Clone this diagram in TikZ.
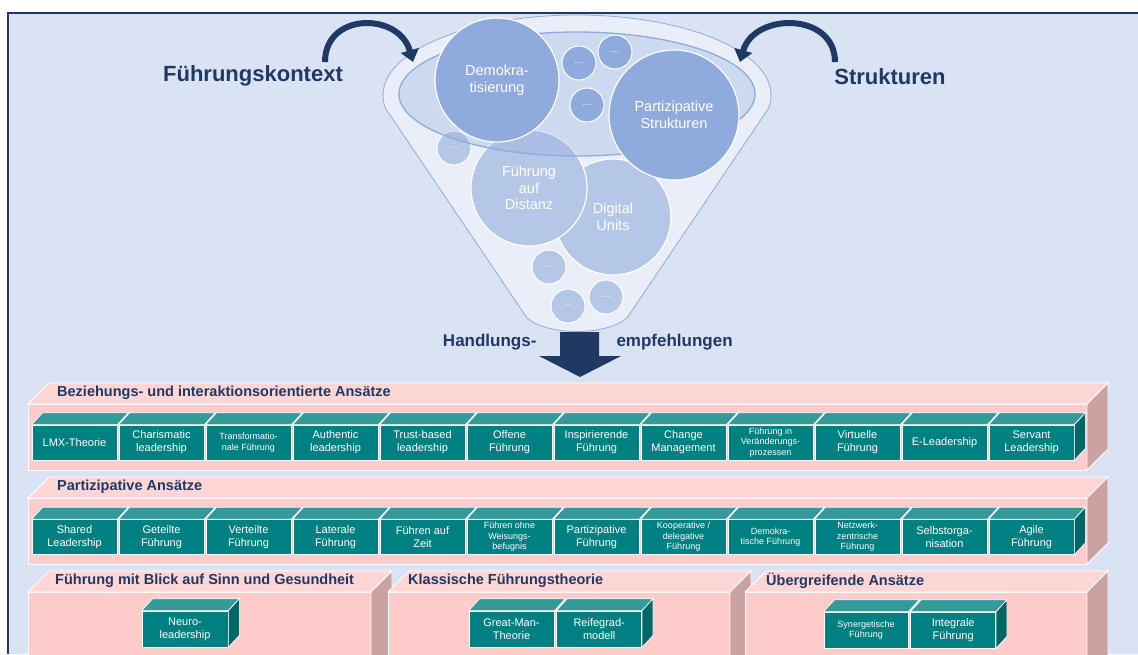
\documentclass[tikz,border=0pt]{standalone}
\usepackage{fontspec}
\setmainfont{Liberation Sans}
\usetikzlibrary{arrows.meta,positioning}
\definecolor{hgblau}{HTML}{DAE3F3}
\definecolor{marine}{HTML}{1F3864}
\definecolor{trichter}{HTML}{E9EEF8}
\definecolor{randblau}{HTML}{8FAADC}
\definecolor{blasedunkel}{HTML}{8FAADC}
\definecolor{blasehell}{HTML}{B4C7E7}
\definecolor{rosavorn}{HTML}{FFCCCC}
\definecolor{rosadeck}{HTML}{FFD6D6}
\definecolor{rosaseite}{HTML}{CCA1A1}
\definecolor{tealvorn}{HTML}{008080}
\definecolor{tealdeck}{HTML}{339999}
\definecolor{tealseite}{HTML}{006666}

\begin{document}
\begin{tikzpicture}[x=1pt,y=-1pt,
   rand/.style={draw=randblau, line width=0.8pt},
   blase/.style={circle, draw=white, line width=1.2pt, inner sep=0pt, text=white, align=center, font=\fontsize{14.5}{16.5}\selectfont},
   punkt/.style={circle, draw=white, line width=1pt, inner sep=0pt, minimum size=34pt, text=white, font=\fontsize{10}{12}\selectfont},
   bogen/.style={draw=marine, line width=6pt, -{Triangle[width=18pt,length=12pt]}},
   titel/.style={text=marine, font=\bfseries\fontsize{22}{26}\selectfont},
   handlung/.style={text=marine, font=\bfseries\fontsize{17}{20}\selectfont},
   bandtitel/.style={anchor=west, inner sep=0pt, text=marine, font=\bfseries\fontsize{14.5}{17}\selectfont},
   bvorn/.style={fill=rosavorn, draw=white, line width=0.8pt},
   bdeck/.style={fill=rosadeck, draw=white, line width=0.8pt},
   bseite/.style={fill=rosaseite, draw=white, line width=0.8pt},
   kasten/.style={draw=white, line width=0.7pt, fill=tealvorn, minimum width=85pt, minimum height=35pt, inner sep=0pt, text=white, align=center},
   gross/.style={font=\fontsize{11}{13}\selectfont},
   klein/.style={font=\fontsize{9}{10.5}\selectfont},
   deckel/.style={fill=tealdeck, draw=white, line width=0.7pt},
   seite/.style={fill=tealseite, draw=white, line width=0.7pt}]
   \useasboundingbox (0,0) rectangle (1138,654);
   \clip (0,0) rectangle (1138,654);
   \fill[white] (0,0) rectangle (1138,654);
   \fill[hgblau] (8,13) rectangle (1138,654);
   \draw[marine, line width=1.2pt] (1138,13) -- (8,13) -- (8,654);

   % Trichter
   \fill[trichter] (383,95) .. controls (383,105) and (386,110) .. (390,115) -- (527,318)
      .. controls (548,336) and (606,336) .. (627,318) -- (764,115) .. controls (768,110) and (771,105) .. (771,95) -- cycle;
   \fill[trichter] (577,95) ellipse[x radius=194, y radius=80];
   \draw[rand] (383,95) .. controls (383,105) and (386,110) .. (390,115) -- (527,318)
      .. controls (548,336) and (606,336) .. (627,318) -- (764,115) .. controls (768,110) and (771,105) .. (771,95);
   \begin{scope}
      \clip (370,0) rectangle (790,95);
      \draw[rand] (577,95) ellipse[x radius=194, y radius=80];
   \end{scope}

   \node[blase, fill=blasehell, minimum size=116pt] (digital) at (613,217) {Digital\\Units};
   \node[blase, fill=blasehell, minimum size=116pt] (distanz) at (529,188) {Führung\\auf\\Distanz};
   \foreach \n/\x/\y in {p4/454/148, p5/549/267, p6/568/306, p7/606/297}
      \node[punkt, fill=blasehell] (\n) at (\x,\y) {\dots};
   \fill[randblau, fill opacity=0.3] (577,94) ellipse[x radius=178, y radius=62];
   \draw[randblau, line width=1.3pt] (577,94) ellipse[x radius=178, y radius=62];
   \node[blase, fill=blasedunkel, minimum size=124pt] (demokratie) at (497,80) {Demokra-\\tisierung};
   \node[blase, fill=blasedunkel, minimum size=130pt] (partizipativ) at (674,115) {Partizipative\\Strukturen};
   \foreach \n/\x/\y in {p1/579/63, p2/615/52, p3/587/105}
      \node[punkt, fill=blasedunkel] (\n) at (\x,\y) {\dots};

   \node[titel] (kontext) at (253,76) {Führungskontext};
   \node[titel] (strukturen) at (890,77) {Strukturen};
   \coordinate (kontextA) at (325,62);
   \coordinate (kontextB) at (413,62);
   \coordinate (strukturA) at (835,62);
   \coordinate (strukturB) at (740,62);
   \draw[bogen] (kontextA) .. controls +(0,-50) and +(-14,-50) .. (kontextB);
   \draw[bogen] (strukturA) .. controls +(0,-50) and +(14,-50) .. (strukturB);

   \node[handlung, anchor=east] (handlungs) at (540,342) {Handlungs-};
   \node[handlung, anchor=west] (empfehlungen) at (613,342) {empfehlungen};
   \fill[marine] (560,332) -- (599,332) -- (599,356) -- (621,356) -- (580,377) -- (539,356) -- (560,356) -- cycle;

   % Baender
   \foreach \xa/\xb/\ya/\yb in {28/1087/404/470, 28/1087/498/564, 28/371/592/676, 388/730/592/676, 745/1087/592/676} {
      \path[bvorn] (\xa,\ya) rectangle (\xb,\yb);
      \path[bdeck] (\xa,\ya) -- ({\xa+21},{\ya-21}) -- ({\xb+21},{\ya-21}) -- (\xb,\ya) -- cycle;
      \path[bseite] (\xb,\ya) -- ({\xb+21},{\ya-21}) -- ({\xb+21},{\yb-21}) -- (\xb,\yb) -- cycle;
   }
   \node[bandtitel] (band1) at (57,393) {Beziehungs- und interaktionsorientierte Ansätze};
   \node[bandtitel] (band2) at (57,487) {Partizipative Ansätze};
   \node[bandtitel] (band3) at (55,581) {Führung mit Blick auf Sinn und Gesundheit};
   \node[bandtitel] (band4) at (408,581) {Klassische Führungstheorie};
   \node[bandtitel] (band5) at (766,581) {Übergreifende Ansätze};

   \foreach \gr/\txt [count=\i from 0] in {gross/LMX-Theorie, gross/{Charismatic\\leadership},
         klein/{Transformatio-\\nale Führung}, gross/{Authentic\\leadership}, gross/{Trust-based\\leadership},
         gross/{Offene\\Führung}, gross/{Inspirierende\\Führung}, gross/{Change\\Management},
         klein/{Führung in\\Veränderungs-\\prozessen}, gross/{Virtuelle\\Führung}, gross/E-Leadership,
         gross/{Servant\\Leadership}} {
      \node[kasten, \gr] (r1b\i) at ({74.5+87*\i},442.5) {\txt};
      \path[deckel] (r1b\i.north west) -- ++(11,-12) -- ([shift={(11,-12)}]r1b\i.north east) -- (r1b\i.north east) -- cycle;
   }
   \foreach \gr/\txt [count=\i from 0] in {gross/{Shared\\Leadership}, gross/{Geteilte\\Führung},
         gross/{Verteilte\\Führung}, gross/{Laterale\\Führung}, gross/{Führen auf\\Zeit},
         klein/{Führen ohne\\Weisungs-\\befugnis}, gross/{Partizipative\\Führung},
         klein/{Kooperative /\\delegative\\Führung}, klein/{Demokra-\\tische Führung},
         klein/{Netzwerk-\\zentrische\\Führung}, gross/{Selbstorga-\\nisation}, gross/{Agile\\Führung}} {
      \node[kasten, \gr] (r2b\i) at ({74.5+87*\i},537) {\txt};
      \path[deckel] (r2b\i.north west) -- ++(11,-12) -- ([shift={(11,-12)}]r2b\i.north east) -- (r2b\i.north east) -- cycle;
   }

   \node[kasten, gross, minimum width=86pt, minimum height=36pt] (neuro) at (185,629) {Neuro-\\leadership};
   \node[kasten, gross, minimum height=36pt] (greatman) at (511.5,629) {Great-Man-\\Theorie};
   \node[kasten, gross, minimum height=36pt] (reifegrad) [right=2pt of greatman] {Reifegrad-\\modell};
   \node[kasten, klein, minimum width=84pt, minimum height=36pt] (synergie) at (866,630) {Synergetische\\Führung};
   \node[kasten, gross, minimum height=36pt] (integral) [right=2pt of synergie] {Integrale\\Führung};
   \foreach \k in {neuro, greatman, reifegrad, synergie, integral}
      \path[deckel] (\k.north west) -- ++(11,-12) -- ([shift={(11,-12)}]\k.north east) -- (\k.north east) -- cycle;
   \foreach \k in {r1b11, r2b11, neuro, reifegrad, integral}
      \path[seite] (\k.north east) -- ++(11,-12) -- ([shift={(11,-12)}]\k.south east) -- (\k.south east) -- cycle;
\end{tikzpicture}
\end{document}
